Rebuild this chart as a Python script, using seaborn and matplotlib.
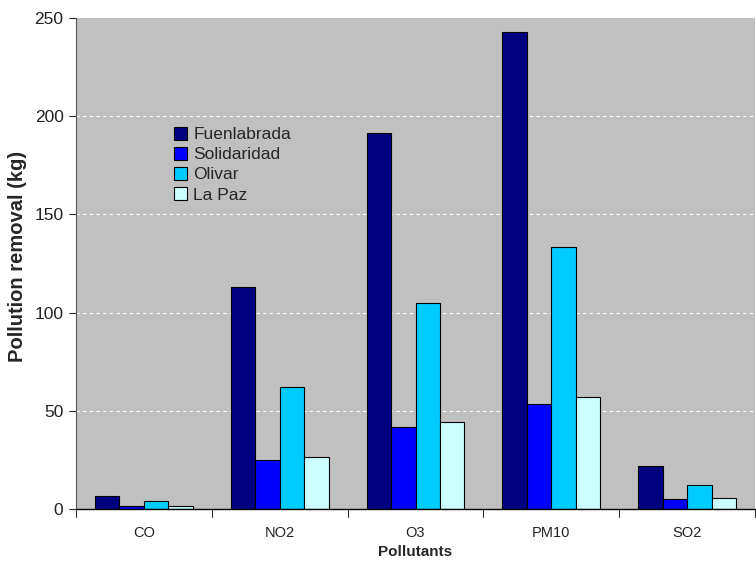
import matplotlib
matplotlib.use("Agg")
import matplotlib.pyplot as plt
import seaborn as sns
import pandas as pd

pollutants = ["CO", "NO2", "O3", "PM10", "SO2"]
sites = ["Fuenlabrada", "Solidaridad", "Olivar", "La Paz"]
fuenlabrada = [6.5, 113, 191.5, 243, 22]
solidaridad = [1.5, 25, 42, 53.5, 5]
olivar = [4, 62, 105, 133.5, 12]
la_paz = [1.5, 26.5, 44.5, 57, 5.5]
colors = ["#000080", "#0000FF", "#00CCFF", "#CCFFFF"]

rows = []
for site, vals in zip(sites, [fuenlabrada, solidaridad, olivar, la_paz]):
    for p, v in zip(pollutants, vals):
        rows.append({"Pollutant": p, "Site": site, "Value": v})
df = pd.DataFrame(rows)

sns.set_style("white")
plt.rcParams["font.family"] = ["Liberation Sans", "DejaVu Sans"]

fig = plt.figure(figsize=(7.56, 5.63), dpi=100)
ax = fig.add_axes([76/756, 1-509/563, 679/756, (509-18)/563])
ax.set_facecolor("#C0C0C0")

sns.barplot(data=df, x="Pollutant", y="Value", hue="Site", order=pollutants,
            hue_order=sites, palette=colors, width=0.72, edgecolor="black",
            linewidth=0.8, saturation=1, ax=ax, errorbar=None)

ax.set_ylim(0, 250)
ax.set_xlim(-0.5, 4.5)
ax.set_yticks([0, 50, 100, 150, 200, 250])
for y in [50, 100, 150, 200]:
    ax.axhline(y, color="white", linestyle=(0, (3, 3)), linewidth=0.8, zorder=0)
ax.set_axisbelow(True)

ax.set_xticks(range(5))
ax.set_xticklabels(pollutants)
ax.tick_params(axis="x", length=0, pad=12, labelsize=10.5)
ax.tick_params(axis="y", length=5, width=0.8, labelsize=12.5, left=True, direction="out", pad=4)
for tl in ax.get_xticklabels() + ax.get_yticklabels():
    tl.set_color("#222222")
# category boundary ticks
for xb in [-0.5, 0.5, 1.5, 2.5, 3.5, 4.5]:
    ax.plot([xb, xb], [0, -4], color="#333333", linewidth=0.8, clip_on=False)

for s in ["top", "right"]:
    ax.spines[s].set_visible(False)
ax.spines["left"].set_color("#555555")
ax.spines["bottom"].set_color("black")
ax.spines["bottom"].set_linewidth(1)

ax.set_xlabel("Pollutants", fontsize=11, fontweight="bold", labelpad=4)
ax.set_ylabel("Pollution removal (kg)", fontsize=14.5, fontweight="bold")
ax.yaxis.set_label_coords(-0.072, 0.515)

leg = ax.legend(loc="upper left", bbox_to_anchor=(0.132, 0.796), frameon=False,
                fontsize=12.5, handlelength=0.75, handleheight=0.75,
                handletextpad=0.35, labelspacing=0.27, borderpad=0)
for h in leg.legend_handles:
    h.set_edgecolor("black")
    h.set_linewidth(0.8)

fig.savefig("out.png", dpi=100)
